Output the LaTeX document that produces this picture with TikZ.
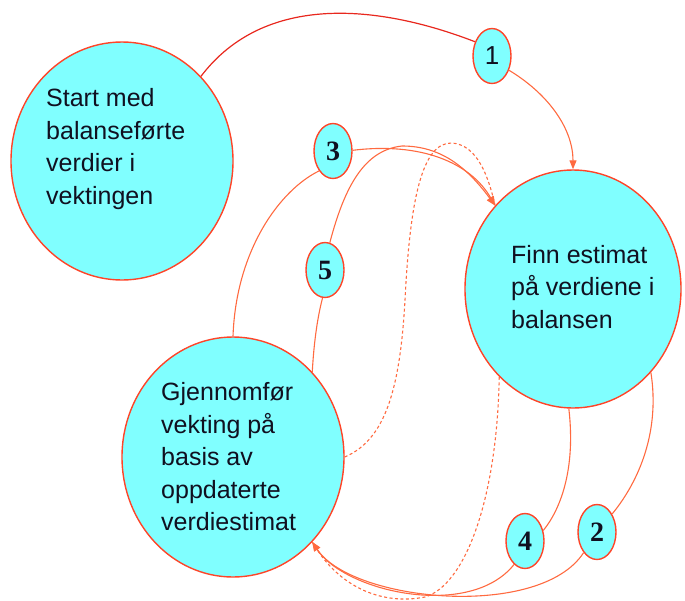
\documentclass[tikz,border=0pt]{standalone}
\usepackage{fontspec}
\setmainfont{Liberation Sans}
\newfontfamily\numserif{Liberation Serif}
\usetikzlibrary{shapes.geometric,arrows.meta}
\definecolor{bubble}{HTML}{80FFFF}
\definecolor{rim}{HTML}{FF4428}
\definecolor{link}{HTML}{FF6A40}
\definecolor{startlink}{HTML}{E8281E}
\definecolor{ink}{HTML}{101020}

\begin{document}
\begin{tikzpicture}[x=1pt,y=-1pt,
  bigstate/.style={ellipse,draw=rim,fill=bubble,line width=1.4pt,inner sep=0pt},
  tag/.style={ellipse,draw=rim,fill=bubble,line width=1.4pt,inner sep=0pt,
    minimum width=38pt,minimum height=55pt,text=ink},
  numtag/.style={tag,font=\numserif\bfseries\fontsize{28}{28}\selectfont},
  onetag/.style={tag,font=\fontsize{26}{26}\selectfont},
  caption/.style={font=\fontsize{25}{32.5}\selectfont,text=ink,align=left,inner sep=0pt,anchor=west},
  flow/.style={draw=link,line width=1.1pt},
  tip/.style={-{Triangle[length=9pt,width=7pt]}},
  dashflow/.style={flow,dash pattern=on 3pt off 2.5pt}
]
\useasboundingbox (0,0) rectangle (685,600);

% main states
\node[bigstate,minimum width=222pt,minimum height=238pt] (A) at (122,161) {};
\node[bigstate,minimum width=216pt,minimum height=238pt] (B) at (573,289) {};
\node[bigstate,minimum width=222pt,minimum height=240pt] (C) at (233,457) {};

\node[caption] (Atext) at (46,149) {Start med\\balanseførte\\verdier i\\vektingen};
\node[caption] (Btext) at (511,287) {Finn estimat\\på verdiene i\\balansen};
\node[caption] (Ctext) at (161,457) {Gjennomfør\\vekting på\\basis av\\oppdaterte\\verdiestimat};

% numbered steps
\node[onetag] (n1) at (492,56) {1};
\node[numtag] (n2) at (597,532) {2};
\node[numtag] (n3) at (333,151) {3};
\node[numtag] (n4) at (525,541) {4};
\node[numtag] (n5) at (325,270) {5};

% step 1
\draw[startlink,line width=1.2pt] (A.47) .. controls (265,-8) and (380,5) .. (n1.140);
\draw[flow,tip] (n1.-40) .. controls (550,95) and (573,130) .. (B.90);

% step 3
\draw[flow] (C.90) .. controls (236,250) and (280,190) .. (n3.235);
\draw[flow,tip] (n3.2) .. controls (420,142) and (470,162) .. (B.133);

% step 5
\draw[flow] (C.47) .. controls (314,340) and (318,315) .. (n5.265);
\draw[flow,tip] (n5.80) .. controls (345,185) and (365,150) .. (402,146)
  .. controls (440,146) and (466,166) .. (B.133);

% direct dashed link back to the estimate
\draw[dashflow] (C.0) .. controls (385,440) and (400,390) .. (405,300)
  .. controls (410,200) and (422,142) .. (452,143)
  .. controls (477,145) and (488,175) .. (B.133);

% step 4
\draw[flow] (B.268) .. controls (576,470) and (560,510) .. (n4.30);
\draw[flow,tip] (n4.245) .. controls (470,620) and (345,592) .. (C.-47);

% step 2
\draw[flow] (B.-47) .. controls (660,430) and (640,480) .. (n2.50);
\draw[flow,tip] (n2.237) .. controls (540,620) and (352,602) .. (C.-47);

% direct dashed link back to the weighting
\draw[dashflow] (B.230) .. controls (497,500) and (465,585) .. (425,597)
  .. controls (385,605) and (340,590) .. (C.-47);
\end{tikzpicture}
\end{document}
